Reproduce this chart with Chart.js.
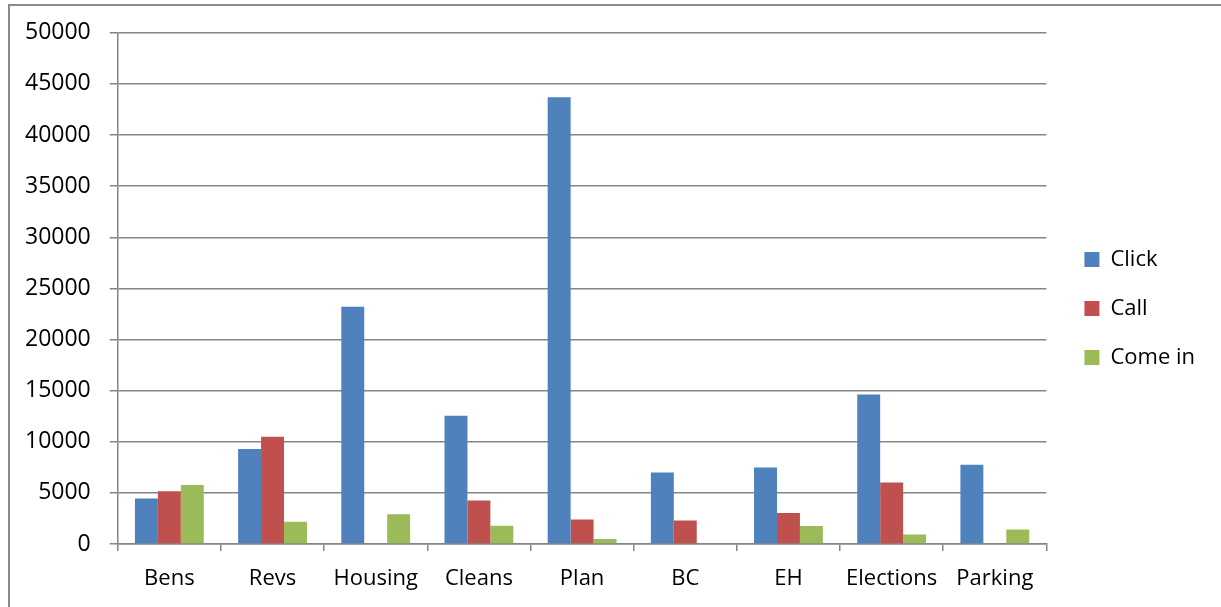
<!DOCTYPE html>
<html>
<head>
<meta charset="utf-8">
<script src="https://cdn.jsdelivr.net/npm/chart.js@4/dist/chart.umd.min.js"></script>
<style>
  html, body { margin: 0; padding: 0; background: #fff; }
  #wrap { position: relative; width: 1221px; height: 607px; overflow: hidden; }
  #frame { position: absolute; left: 8px; top: 4px; width: 1300px; height: 700px;
           border-left: 2px solid #8a8a8a; border-top: 2px solid #8a8a8a; box-sizing: border-box; }
  canvas { position: absolute; left: 0; top: 0; }
</style>
</head>
<body>
<div id="wrap">
  <div id="frame"></div>
  <canvas id="c" width="1221" height="607"></canvas>
</div>
<script>
const categories = ["Bens", "Revs", "Housing", "Cleans", "Plan", "BC", "EH", "Elections", "Parking"];
const seriesNames = ["Click", "Call", "Come in"];
const clickValues  = [4450, 9290, 23200, 12550, 43700, 7000, 7490, 14630, 7760];
const callValues   = [5170, 10500, 0, 4250, 2400, 2290, 3040, 6020, 0];
const comeInValues = [5760, 2170, 2900, 1780, 490, 0, 1770, 940, 1430];
const yTicks = [0, 5000, 10000, 15000, 20000, 25000, 30000, 35000, 40000, 45000, 50000];
const colors = ["#4F81BD", "#C0504D", "#9BBB59"];

const FONT = { family: "'Open Sans', sans-serif", size: 22 };
const YFONT = { family: "'Open Sans', sans-serif", size: 23 };
const XFONT = { family: "'Open Sans', sans-serif", size: 22, lineHeight: 1.0 };
const GRID = "#868686";

new Chart(document.getElementById("c"), {
  type: "bar",
  data: {
    labels: categories,
    datasets: [
      { label: seriesNames[0], data: clickValues,  backgroundColor: colors[0] },
      { label: seriesNames[1], data: callValues,   backgroundColor: colors[1] },
      { label: seriesNames[2], data: comeInValues, backgroundColor: colors[2] }
    ]
  },
  options: {
    responsive: false,
    animation: false,
    events: [],
    layout: { padding: { left: 6, right: 16, top: 31, bottom: 0 } },
    datasets: { bar: { categoryPercentage: 0.667, barPercentage: 1.0 } },
    plugins: {
      tooltip: { enabled: false },
      legend: {
        position: "right",
        align: "start",
        title: { display: true, text: " ", font: FONT, padding: { top: 164, bottom: 0 } },
        labels: {
          boxWidth: 15, boxHeight: 15, padding: 27,
          color: "#000", font: FONT
        }
      }
    },
    scales: {
      x: {
        grid: { display: true, drawOnChartArea: false, drawTicks: true, tickLength: 7, color: GRID, lineWidth: 1.5 },
        border: { display: true, color: GRID, width: 1.5 },
        ticks: { color: "#000", font: XFONT, padding: 17, maxRotation: 0, autoSkip: false }
      },
      y: {
        min: 0, max: 50000,
        afterBuildTicks: (axis) => { axis.ticks = yTicks.map(v => ({ value: v })); },
        grid: { color: GRID, lineWidth: 1.5, tickLength: 8 },
        border: { display: true, color: GRID, width: 1.5 },
        ticks: { color: "#000", font: YFONT, padding: 19, callback: (v) => String(v) }
      },
      gap: {
        type: "linear",
        position: "right",
        display: true,
        grid: { display: false },
        border: { display: false },
        ticks: { display: false },
        afterFit: (s) => { s.width = 11; }
      }
    }
  }
});
</script>
</body>
</html>
